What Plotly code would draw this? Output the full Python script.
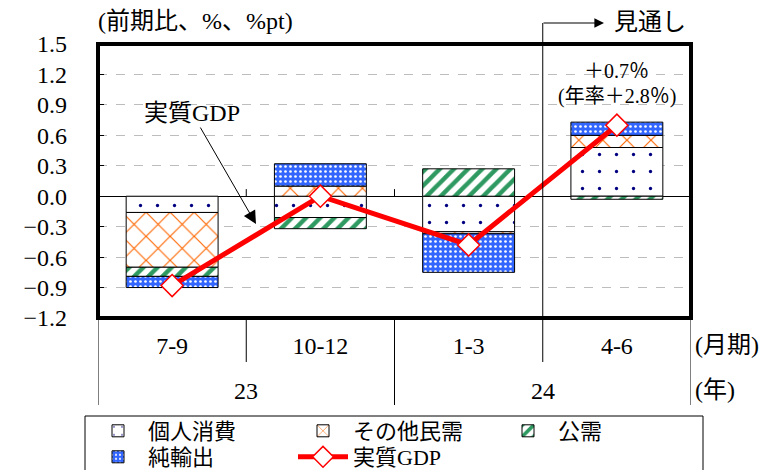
import plotly.graph_objects as go

# ---- data ----
quarters = ["7-9", "10-12", "1-3", "4-6"]
years = ["23", "24"]
year_spans = [(0, 1), (2, 3)]  # quarter index range for each year
private_consumption = [-0.16, -0.21, -0.35, 0.48]
other_private = [-0.54, 0.10, -0.02, 0.12]
public_demand = [-0.09, -0.11, 0.27, -0.03]
net_exports = [-0.11, 0.22, -0.38, 0.13]
real_gdp = [-0.88, 0.0, -0.48, 0.70]
annualized_last = 2.8
forecast_start = "4-6"
y_ticks = [-1.2, -0.9, -0.6, -0.3, 0.0, 0.3, 0.6, 0.9, 1.2, 1.5]

FONT = "Liberation Serif, DejaVu Serif, Noto Sans CJK JP"
W, H = 769, 470
ML, MR, MT, MB = 98, 78, 44, 152
PW, PH = W - ML - MR, H - MT - MB
n = len(quarters)


def py(p):  # pixel y -> paper y
    return (H - MB - p) / PH


def px(p):  # pixel x -> paper x
    return (p - ML) / PW


def pxd(p):  # pixel x -> data x (category axis)
    return (p - ML) / PW * n - 0.5


fig = go.Figure()
bar_line = dict(color="black", width=1)
fig.add_bar(x=quarters, y=private_consumption, name="個人消費", width=0.62,
            marker=dict(color="white", line=bar_line,
                        pattern=dict(shape=".", fgcolor="#000080", bgcolor="white",
                                     fgopacity=1, size=17, solidity=0.03)),
            legend="legend")
fig.add_bar(x=quarters, y=other_private, name="その他民需", width=0.62,
            marker=dict(color="white", line=bar_line,
                        pattern=dict(shape="x", fgcolor="#FF6600", bgcolor="white",
                                     fgopacity=1, size=17, solidity=0.13)),
            legend="legend")
fig.add_bar(x=quarters, y=public_demand, name="公需", width=0.62,
            marker=dict(color="white", line=bar_line,
                        pattern=dict(shape="/", fgcolor="#2E9960", bgcolor="white",
                                     fgopacity=1, size=10, solidity=0.45)),
            legend="legend")
fig.add_bar(x=quarters, y=net_exports, name="純輸出", width=0.62,
            marker=dict(color="#3366FF", line=bar_line,
                        pattern=dict(shape=".", fgcolor="white", bgcolor="#3366FF",
                                     fgopacity=1, size=5, solidity=0.22)),
            legend="legend2")
fig.add_scatter(x=quarters, y=real_gdp, name="実質GDP", mode="lines+markers",
                line=dict(color="#FF0000", width=5),
                marker=dict(symbol="diamond", size=17, color="white",
                            line=dict(color="#FF0000", width=1.5)),
                legend="legend2")

shapes = []
# frame
shapes.append(dict(type="rect", xref="paper", yref="paper", x0=0, x1=1, y0=0, y1=1,
                   line=dict(color="black", width=4), layer="above"))
# small ticks on zero line at quarter boundaries
fs = quarters.index(forecast_start) - 0.5
for b in range(n - 1):
    xb = b + 0.5
    if xb != fs:
        shapes.append(dict(type="line", xref="x", yref="y", x0=xb, x1=xb, y0=0, y1=0.07,
                           line=dict(color="black", width=1)))
# separators under axis
group_bounds = [-0.5] + [s[1] + 0.5 for s in year_spans]
for b in range(n + 1):
    xb = b - 0.5
    if xb == fs:
        continue
    y0 = py(405) if xb in group_bounds else py(362)
    shapes.append(dict(type="line", xref="x", yref="paper", x0=xb, x1=xb, y0=0, y1=y0,
                       line=dict(color="black", width=1)))
# forecast line
shapes.append(dict(type="line", xref="x", yref="paper", x0=fs, x1=fs, y0=py(362), y1=py(23),
                   line=dict(color="black", width=1)))
# legend box
shapes.append(dict(type="rect", xref="paper", yref="paper", x0=px(85), x1=px(703),
                   y0=py(490), y1=py(416), line=dict(color="black", width=1)))

ann = []
ann.append(dict(text="(前期比、%、%pt)", xref="paper", yref="paper", x=px(96), y=py(21),
                xanchor="left", yanchor="middle", showarrow=False, font=dict(size=24)))
ann.append(dict(text="", xref="x", yref="paper", x=pxd(604), y=py(23), ax=-62, ay=0,
                showarrow=True, arrowhead=2, arrowsize=1.6, arrowwidth=1.2, arrowcolor="black"))
ann.append(dict(text="見通し", xref="x", yref="paper", x=pxd(612), y=py(22),
                xanchor="left", yanchor="middle", showarrow=False, font=dict(size=24)))
ann.append(dict(text=f"＋{real_gdp[-1]:.1f}％", xref="x", yref="y", x=n - 1, y=1.23,
                showarrow=False, font=dict(size=20)))
ann.append(dict(text=f"(年率＋{annualized_last:.1f}％)", xref="x", yref="y", x=n - 1, y=0.98,
                showarrow=False, font=dict(size=20)))
ann.append(dict(text="実質GDP", xref="x", yref="y", x=pxd(256), y=-0.274, ax=-64, ay=-111,
                showarrow=True, arrowhead=2, arrowsize=2.6, arrowwidth=1, arrowcolor="black",
                font=dict(size=24)))
for yr, (a, b) in zip(years, year_spans):
    ann.append(dict(text=yr, xref="x", yref="paper", x=(a + b) / 2, y=py(391),
                    showarrow=False, font=dict(size=24), yanchor="middle"))
ann.append(dict(text="(月期)", xref="paper", yref="paper", x=px(693), y=py(345),
                xanchor="left", yanchor="middle", showarrow=False, font=dict(size=24)))
ann.append(dict(text="(年)", xref="paper", yref="paper", x=px(693), y=py(390),
                xanchor="left", yanchor="middle", showarrow=False, font=dict(size=24)))

fig.update_layout(
    width=W, height=H, barmode="relative",
    margin=dict(l=ML, r=MR, t=MT, b=MB, autoexpand=False),
    paper_bgcolor="white", plot_bgcolor="white",
    font=dict(family=FONT, size=24, color="black"),
    shapes=shapes, annotations=ann,
    legend=dict(orientation="h", x=px(88), xanchor="left", y=py(431), yanchor="middle",
                entrywidth=140, itemwidth=50, font=dict(size=22), bgcolor="rgba(0,0,0,0)",
                traceorder="normal"),
    legend2=dict(orientation="h", x=px(88), xanchor="left", y=py(457), yanchor="middle",
                 entrywidth=140, itemwidth=50, font=dict(size=22), bgcolor="rgba(0,0,0,0)",
                 traceorder="normal"),
)
fig.update_xaxes(type="category", categoryorder="array", categoryarray=quarters,
                 range=[-0.5, n - 0.5], showgrid=False, zeroline=False, showline=False,
                 ticks="outside", ticklen=6, tickcolor="rgba(0,0,0,0)",
                 tickfont=dict(size=24))
fig.update_yaxes(range=[y_ticks[0], y_ticks[-1]], tickvals=y_ticks, tickformat=".1f",
                 showgrid=True, gridcolor="#BDBDBD", griddash="dash", gridwidth=1,
                 zeroline=True, zerolinecolor="black", zerolinewidth=1,
                 ticks="inside", ticklen=6, tickcolor="black", ticklabelstandoff=30,
                 showline=False, tickfont=dict(size=24))

fig.write_html("out.html")
